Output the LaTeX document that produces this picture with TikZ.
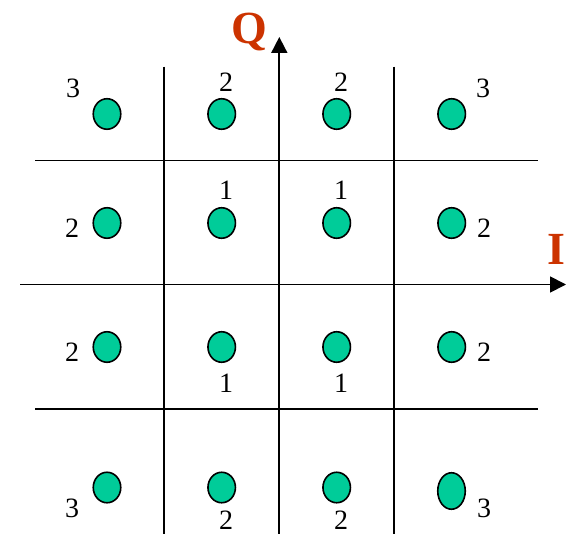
\documentclass[tikz,border=0pt]{standalone}
\usepackage{fontspec}
\setmainfont{Liberation Serif}
\usetikzlibrary{shapes.geometric,arrows.meta}
\definecolor{dotgreen}{RGB}{0,204,153}
\definecolor{axred}{RGB}{204,51,0}
\begin{document}
\begin{tikzpicture}[x=1pt,y=-1pt,
  gridline/.style={line width=1.8pt},
  axisline/.style={line width=1.8pt,-{Triangle[length=16pt,width=16pt]}},
  dot/.style={ellipse,draw,fill=dotgreen,line width=1.6pt,inner sep=0pt,minimum width=27.5pt,minimum height=30.5pt},
  lbl/.style={inner sep=0pt,font=\fontsize{28}{28}\selectfont},
  axlbl/.style={inner sep=0pt,anchor=base,text=axred,font=\fontsize{46}{46}\selectfont\bfseries}]
\useasboundingbox (0,0) rectangle (569,534);
% grid lines
\coordinate (v1t) at (164,66.7); \coordinate (v1b) at (164,534);
\coordinate (v2t) at (394,66.7); \coordinate (v2b) at (394,534);
\coordinate (h1l) at (35,160.5); \coordinate (h1r) at (538,160.5);
\coordinate (h2l) at (35,409); \coordinate (h2r) at (538,409);
\coordinate (qb) at (279.3,534); \coordinate (qt) at (279.3,37);
\coordinate (il) at (20,284.5); \coordinate (ir) at (566,284.5);
\draw[gridline] (v1t) -- (v1b);
\draw[gridline] (v2t) -- (v2b);
\draw[gridline] (h1l) -- (h1r);
\draw[gridline] (h2l) -- (h2r);
\draw[axisline] (qb) -- (qt);
\draw[axisline] (il) -- (ir);
\node[axlbl] (Q) at (249.7,44) {Q};
\node[axlbl] (I) at (556.5,264) {I};
% dots
\node[dot] (d11) at (107,114) {};
\node[dot] (d12) at (221.7,114) {};
\node[dot] (d13) at (336.7,114) {};
\node[dot] (d14) at (451.7,114) {};
\node[dot] (d21) at (107,223) {};
\node[dot] (d22) at (221.7,223) {};
\node[dot] (d23) at (336.7,223) {};
\node[dot] (d24) at (451.7,223) {};
\node[dot] (d31) at (107,347) {};
\node[dot] (d32) at (221.7,347) {};
\node[dot] (d33) at (336.7,347) {};
\node[dot] (d34) at (451.7,347) {};
\node[dot] (d41) at (107,487.5) {};
\node[dot] (d42) at (221.7,487.5) {};
\node[dot] (d43) at (336.7,487.5) {};
\node[dot,minimum height=36.5pt] (d44) at (451.5,491) {};
% labels
\node[lbl] (l11) at (73,88) {3};
\node[lbl] (l12) at (226,82) {2};
\node[lbl] (l13) at (341,82) {2};
\node[lbl] (l14) at (483,88) {3};
\node[lbl] (l21) at (72,228) {2};
\node[lbl] (l22) at (226,190) {1};
\node[lbl] (l23) at (341,190) {1};
\node[lbl] (l24) at (484,228) {2};
\node[lbl] (l31) at (72,352) {2};
\node[lbl] (l32) at (226,383) {1};
\node[lbl] (l33) at (341,383) {1};
\node[lbl] (l34) at (484,352) {2};
\node[lbl] (l41) at (72,508) {3};
\node[lbl] (l42) at (226,520) {2};
\node[lbl] (l43) at (341,520) {2};
\node[lbl] (l44) at (484,508) {3};
\end{tikzpicture}
\end{document}
